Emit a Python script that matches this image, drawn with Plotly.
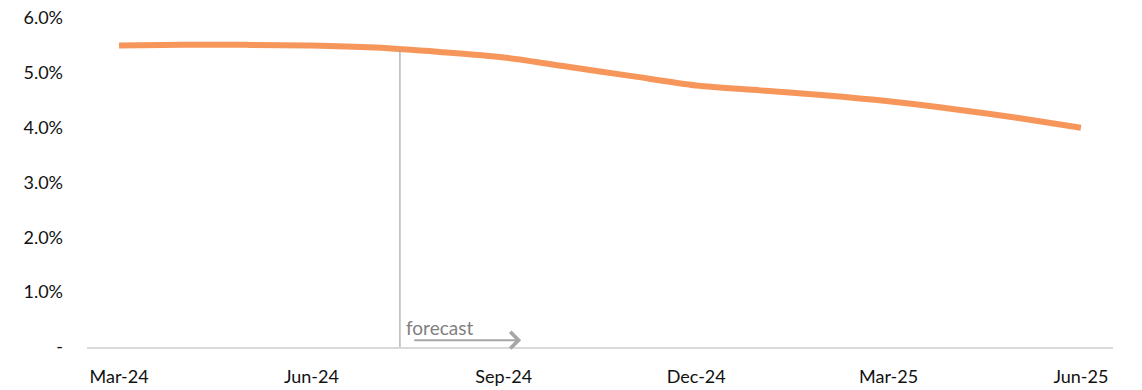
import plotly.graph_objects as go

# Monthly policy-rate path (actual to mid-2024, forecast thereafter)
months = ["Mar-24", "Apr-24", "May-24", "Jun-24", "Jul-24", "Aug-24", "Sep-24",
          "Oct-24", "Nov-24", "Dec-24", "Jan-25", "Feb-25", "Mar-25", "Apr-25",
          "May-25", "Jun-25"]
rate = [0.0550, 0.0551, 0.0551, 0.0550, 0.0546, 0.0538, 0.0528, 0.0511,
        0.0494, 0.0477, 0.0468, 0.0459, 0.0448, 0.0434, 0.0418, 0.0400]

x_ticks = ["Mar-24", "Jun-24", "Sep-24", "Dec-24", "Mar-25", "Jun-25"]
y_ticks = [0, 0.01, 0.02, 0.03, 0.04, 0.05, 0.06]
y_tick_text = ["-", "1.0%", "2.0%", "3.0%", "4.0%", "5.0%", "6.0%"]

# Where the forecast period starts (category units) and the rate there
forecast_start = 4.38
forecast_level = 0.0542

FONT = "Lato"
fig = go.Figure()

fig.add_trace(go.Scatter(
    x=months, y=rate, mode="lines",
    line=dict(color="#F7965A", width=6, shape="spline", smoothing=0.8),
    hoverinfo="skip", showlegend=False,
))

# Divider marking the start of the forecast
fig.add_shape(type="line", xref="x", yref="y",
              x0=forecast_start, x1=forecast_start, y0=0, y1=forecast_level,
              line=dict(color="#A6A6A6", width=1.2))

# "forecast" arrow and label
fig.add_annotation(xref="x", yref="y", axref="x", ayref="y",
                   x=6.27, y=0.00125, ax=4.58, ay=0.00125,
                   text="", showarrow=True, arrowhead=4, arrowsize=1.6,
                   arrowwidth=2, arrowcolor="#A6A6A6")
fig.add_annotation(xref="x", yref="y", x=4.44, y=0.0011,
                   text="forecast", showarrow=False, xanchor="left", yanchor="bottom",
                   font=dict(family=FONT, size=19, color="#808080"))

fig.update_layout(
    width=1142, height=390,
    margin=dict(l=87, r=29, t=18, b=43),
    paper_bgcolor="white", plot_bgcolor="white",
    font=dict(family=FONT, size=18, color="#111111"),
    xaxis=dict(
        type="category", range=[-0.5, 15.5], automargin=False,
        tickmode="array", tickvals=x_ticks, ticktext=x_ticks,
        showgrid=False, zeroline=False,
        showline=True, linecolor="#D9D9D9", linewidth=2,
        ticks="", ticklabelstandoff=12,
    ),
    yaxis=dict(
        range=[0, 0.06], automargin=False,
        tickmode="array", tickvals=y_ticks, ticktext=y_tick_text,
        showgrid=False, zeroline=False, showline=False,
        ticks="", ticklabelstandoff=23,
    ),
)

fig.write_html("out.html")
